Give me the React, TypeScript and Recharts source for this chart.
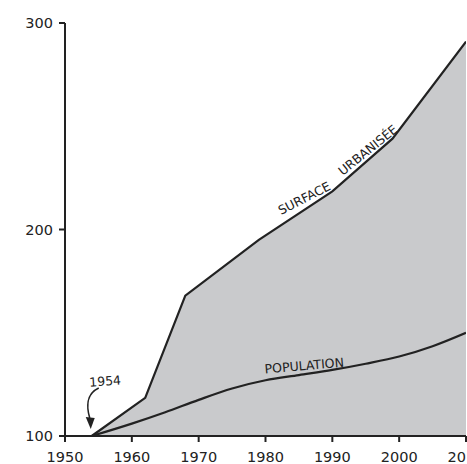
import React from 'react';
import {
  ComposedChart,
  Area,
  Line,
  XAxis,
  YAxis,
  ReferenceDot,
} from 'recharts';

// values
const surfaceYears = [1954, 1962, 1968, 1979, 1990, 1999, 2010];
const surfaceValues = [100, 118.5, 168, 195, 218.5, 244, 291];

const populationYears = [1954, 1960, 1965, 1970, 1975, 1980, 1985, 1990, 1995, 2000, 2005, 2010];
const populationValues = [100, 106, 111.5, 117.5, 123, 127, 129.5, 132, 135, 138.5, 143.5, 150];

const xTicks = [1950, 1960, 1970, 1980, 1990, 2000, 2010];
const yTicks = [100, 200, 300];

const INK = '#222222';
const FILL = '#c9cacc';
const FONT = '"DejaVu Sans", sans-serif';

// merge both series on one year axis
const allYears = Array.from(new Set([...surfaceYears, ...populationYears])).sort((a, b) => a - b);
const chartData = allYears.map((year) => {
  const si = surfaceYears.indexOf(year);
  const pi = populationYears.indexOf(year);
  return {
    year,
    surface: si >= 0 ? surfaceValues[si] : null,
    population: pi >= 0 ? populationValues[pi] : null,
  };
});

const rotatedText = (text: string, angle: number) => (props: any) => {
  const { cx, cy } = props;
  return (
    <text
      x={cx}
      y={cy}
      dy="0.36em"
      textAnchor="middle"
      fontFamily={FONT}
      fontSize={12.5}
      fill={INK}
      transform={`rotate(${angle} ${cx} ${cy})`}
    >
      {text}
    </text>
  );
};

const Arrow = (props: any) => {
  const { cx, cy } = props;
  return (
    <g>
      <path
        d={`M ${cx + 7} ${cy - 48} C ${cx - 6} ${cy - 42}, ${cx - 5} ${cy - 28}, ${cx - 2} ${cy - 18}`}
        fill="none"
        stroke={INK}
        strokeWidth={1.6}
      />
      <polygon
        points={`${cx - 6},${cy - 19} ${cx + 3},${cy - 18} ${cx - 1},${cy - 7}`}
        fill={INK}
      />
    </g>
  );
};

const App: React.FC = () => {
  return (
    <div style={{ position: 'absolute', left: 0, top: 0, background: '#fff' }}>
      <ComposedChart
        width={467}
        height={464}
        data={chartData}
        margin={{ top: 23, right: 1, bottom: 0, left: 0 }}
      >
        <XAxis
          dataKey="year"
          type="number"
          domain={[1950, 2010]}
          ticks={xTicks}
          allowDataOverflow
          height={28}
          stroke={INK}
          strokeWidth={2}
          tickSize={6}
          tickMargin={10}
          tick={{ fontSize: 14.5, fontFamily: FONT, fill: INK }}
          interval={0}
        />
        <YAxis
          type="number"
          domain={[100, 300]}
          ticks={yTicks}
          width={65}
          stroke={INK}
          strokeWidth={2}
          tickSize={6}
          tickMargin={6}
          tick={{ fontSize: 14.5, fontFamily: FONT, fill: INK }}
          interval={0}
        />
        <Area
          type="linear"
          dataKey="surface"
          connectNulls
          stroke={INK}
          strokeWidth={2.2}
          fill={FILL}
          fillOpacity={1}
          dot={false}
          activeDot={false}
          isAnimationActive={false}
        />
        <Line
          type="monotone"
          dataKey="population"
          connectNulls
          stroke={INK}
          strokeWidth={2.2}
          dot={false}
          activeDot={false}
          isAnimationActive={false}
        />
        <ReferenceDot x={1985.8} y={215.2} r={0} shape={rotatedText('SURFACE', -27)} />
        <ReferenceDot x={1995.3} y={238.5} r={0} shape={rotatedText('URBANISÉE', -39)} />
        <ReferenceDot x={1985.8} y={134.1} r={0} shape={rotatedText('POPULATION', -5)} />
        <ReferenceDot x={1956} y={126.6} r={0} shape={rotatedText('1954', -4)} />
        <ReferenceDot x={1954} y={100} r={0} shape={Arrow} />
      </ComposedChart>
    </div>
  );
};

export default App;
